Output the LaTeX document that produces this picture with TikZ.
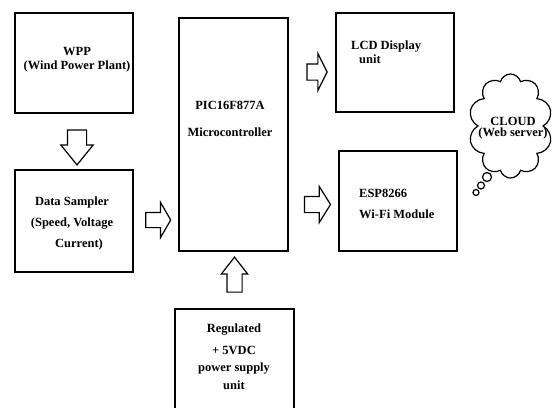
\documentclass[tikz,border=0pt]{standalone}
\usepackage{fontspec}
\setmainfont{Liberation Serif}
\usetikzlibrary{shapes.arrows, shapes.symbols, calc}

\begin{document}
\begin{tikzpicture}[
  x=1pt, y=-1pt,
  blk/.style={draw, line width=1.6pt, inner sep=0pt},
  txt/.style={font=\fontsize{12.5}{14}\selectfont\bfseries, inner sep=0pt},
  barrow/.style={single arrow, draw, line width=1.2pt, single arrow head indent=0pt},
]

% Page
\clip (0,0) rectangle (553,407);

% ============ Blocks ============
\node[blk, minimum width=118pt, minimum height=100pt] (wpp) at (74,63) {};
\node[txt, align=center] (wpptxt) at (77,59.5) {WPP\\(Wind Power Plant)};

\node[blk, minimum width=118pt, minimum height=102pt] (sampler) at (74,221) {};
\node[txt, align=center] (samplertxt) at (72,223)
  {Data Sampler\\[7pt](Speed, Voltage\\[7pt]\hspace*{14pt}Current)};

\node[blk, minimum width=109pt, minimum height=233pt] (mcu) at (233.5,134.5) {};
\node[txt, align=center] (mcutxt) at (230,118.5) {PIC16F877A\\[13pt]Microcontroller};

\node[blk, minimum width=118pt, minimum height=99pt] (lcd) at (395,62.5) {};
\node[txt, align=left, anchor=west] (lcdtxt) at (351,52.5) {LCD Display\\\hspace*{8pt}unit};

\node[blk, minimum width=118pt, minimum height=100pt] (esp) at (398,201) {};
\node[txt, align=left, anchor=west] (esptxt) at (359,203.5) {ESP8266\\[7pt]Wi-Fi Module};

% power supply box runs off the bottom of the page
\node[blk, minimum width=119pt, minimum height=120pt] (psu) at (234.5,369) {};
\node[txt, align=center] (psutxt) at (234,357)
  {Regulated\\[8pt]+ 5VDC\\[3pt]power supply\\[4pt]unit};

% ============ Cloud ============
\node[cloud, draw, line width=1.2pt, cloud puffs=10, cloud ignores aspect,
      minimum width=84pt, minimum height=104pt] (cloud) at (510.5,126) {};
\node[txt, align=center] (cloudtxt) at (513,128) {CLOUD\\[-3pt](Web server)};
% thought bubbles
\draw[line width=1.2pt] (487,177) circle (4.5pt);
\draw[line width=1.2pt] (481,185.5) circle (3.5pt);
\draw[line width=1.2pt] (476,192.5) circle (3pt);

% ============ Block arrows ============
\node[barrow, shape border rotate=270, minimum height=35pt, inner sep=9pt,
      single arrow head extend=6.5pt, single arrow tip angle=78] (a1)
  at ($(wpp.south)!0.5!(sampler.north)+(3,0)$) {};
\node[barrow, minimum height=25pt, inner sep=7pt,
      single arrow head extend=10pt, single arrow tip angle=120] (a2)
  at ($(sampler.east)!0.5!(mcu.west |- sampler.east)+(0,-1)$) {};
\node[barrow, minimum height=17pt, inner sep=7.5pt,
      single arrow head extend=10.5pt, single arrow tip angle=127] (a3)
  at ($(mcu.east |- lcd.center)!0.5!(lcd.west)+(3,9.5)$) {};
\node[barrow, minimum height=26pt, inner sep=7.5pt,
      single arrow head extend=10pt, single arrow tip angle=116] (a4)
  at ($(mcu.east |- esp.center)!0.5!(esp.west)+(1.5,3.5)$) {};
\node[barrow, shape border rotate=90, minimum height=35pt, inner sep=7pt,
      single arrow head extend=5.5pt, single arrow tip angle=76] (a5)
  at ($(mcu.south)!0.5!(psu.north)+(0.5,-0.5)$) {};

\end{tikzpicture}
\end{document}
